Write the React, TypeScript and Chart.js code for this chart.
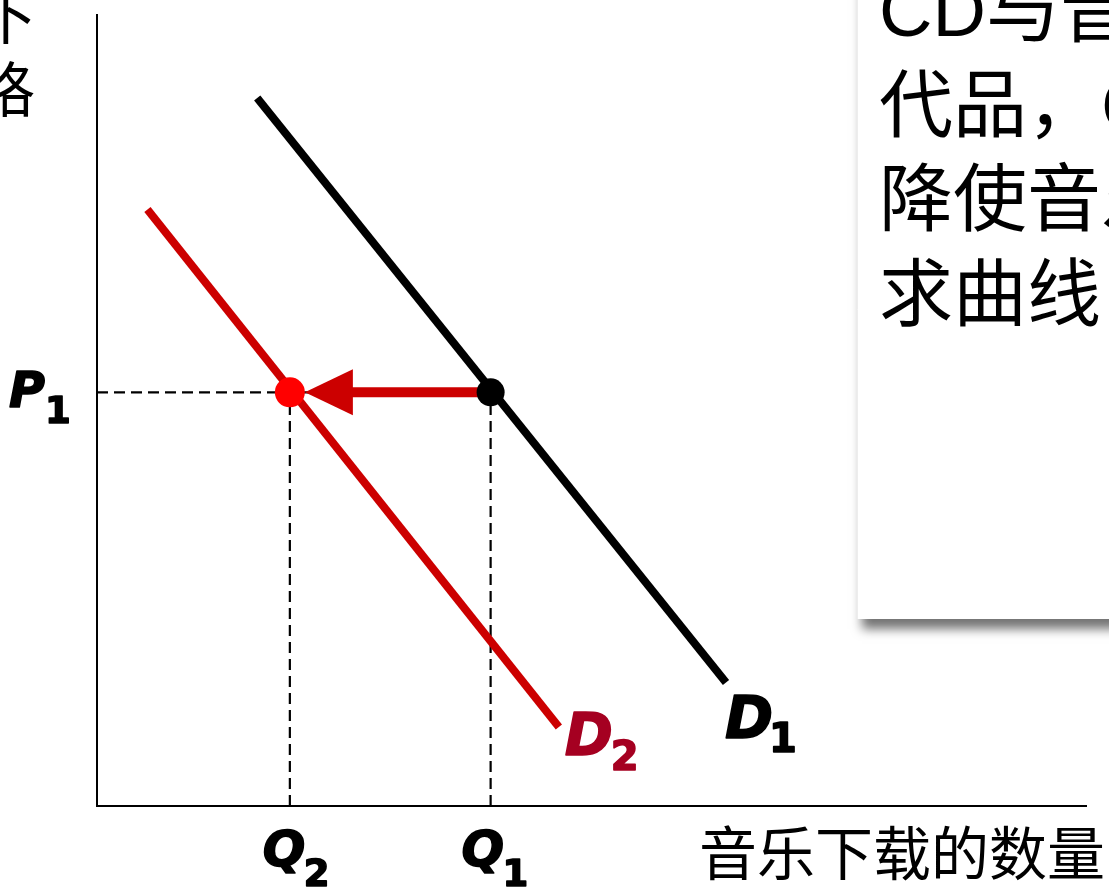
import React, { useEffect, useRef } from "react";
import { Chart, registerables } from "chart.js";

Chart.register(...registerables);

// ---- data (quantity axis 0..100, price axis 0..100) ----
const qRange = [0, 100];
const pRange = [0, 100];
const demandD1 = [
  { x: 16.2, y: 89.5 },
  { x: 63.6, y: 15.6 },
];
const demandD2 = [
  { x: 5.1, y: 75.4 },
  { x: 46.7, y: 10.0 },
];
const priceP1 = 52.3;
const quantityQ1 = 39.8;
const quantityQ2 = 19.5;
const labelD1 = ["D", "1"];
const labelD2 = ["D", "2"];
const labelP1 = ["P", "1"];
const labelQ1 = ["Q", "1"];
const labelQ2 = ["Q", "2"];
const xTitle = "音乐下载的数量";
const yTitleLines = ["音乐下", "载的价格"];
const noteLines = ["CD与音乐下载是替", "代品，CD价格下", "降使音乐下载的需", "求曲线"];

const LATIN_BI = "'DejaVu Sans', 'Liberation Sans', sans-serif";
const CJK = "'Noto Sans CJK SC', sans-serif";

function drawLabel(
  ctx: CanvasRenderingContext2D,
  parts: string[],
  x: number,
  y: number,
  mainSize: number,
  subSize: number,
  subDx: number,
  subDy: number,
  color: string
) {
  ctx.fillStyle = color;
  ctx.strokeStyle = color;
  ctx.lineJoin = "round";
  ctx.lineWidth = 1.6;
  ctx.textAlign = "left";
  ctx.textBaseline = "alphabetic";
  ctx.font = `italic bold ${mainSize}px ${LATIN_BI}`;
  ctx.fillText(parts[0], x, y);
  ctx.strokeText(parts[0], x, y);
  ctx.font = `bold ${subSize}px ${LATIN_BI}`;
  ctx.fillText(parts[1], x + subDx, y + subDy);
  ctx.strokeText(parts[1], x + subDx, y + subDy);
}

const overlayPlugin = {
  id: "overlay",
  afterDatasetsDraw(chart: any) {
    const ctx: CanvasRenderingContext2D = chart.ctx;
    const xs = chart.scales.x;
    const ys = chart.scales.y;
    const py = ys.getPixelForValue(priceP1);
    const tip = xs.getPixelForValue(quantityQ2) + 15;
    ctx.save();
    ctx.fillStyle = "#CC0000";
    ctx.beginPath();
    ctx.moveTo(tip, py);
    ctx.lineTo(tip + 48, py - 23);
    ctx.lineTo(tip + 48, py + 23);
    ctx.closePath();
    ctx.fill();
    ctx.restore();
  },
  afterDraw(chart: any) {
    const ctx: CanvasRenderingContext2D = chart.ctx;
    const xs = chart.scales.x;
    const ys = chart.scales.y;
    const ca = chart.chartArea;
    ctx.save();

    // note text box with shadow
    ctx.save();
    ctx.shadowColor = "rgba(0,0,0,0.55)";
    ctx.shadowBlur = 10;
    ctx.shadowOffsetX = 5;
    ctx.shadowOffsetY = 10;
    ctx.fillStyle = "#ffffff";
    ctx.fillRect(857, -40, 400, 659);
    ctx.restore();
    ctx.strokeStyle = "#ededed";
    ctx.lineWidth = 1;
    ctx.beginPath();
    ctx.moveTo(857.5, 0);
    ctx.lineTo(857.5, 619);
    ctx.stroke();
    ctx.fillStyle = "#000";
    ctx.textAlign = "left";
    ctx.textBaseline = "alphabetic";
    ctx.font = `74px 'Liberation Sans', ${CJK}`;
    noteLines.forEach((t, i) => ctx.fillText(t, 879, 36 + i * 94.7));

    // y title (cut off at the left edge)
    ctx.font = `60px ${CJK}`;
    ctx.textAlign = "right";
    ctx.fillText(yTitleLines[0], 37, 39);
    ctx.fillText(yTitleLines[1], 35, 112);

    // x title
    ctx.textAlign = "left";
    ctx.font = `58px ${CJK}`;
    ctx.fillText(xTitle, 699, 875);

    const py = ys.getPixelForValue(priceP1);
    const qx1 = xs.getPixelForValue(quantityQ1);
    const qx2 = xs.getPixelForValue(quantityQ2);

    drawLabel(ctx, labelP1, ca.left - 88, py + 15, 49, 37, 36, 16, "#000");
    drawLabel(ctx, labelQ2, qx2 - 27, ca.bottom + 60, 50, 37, 41, 20, "#000");
    drawLabel(ctx, labelQ1, qx1 - 29, ca.bottom + 60, 50, 37, 41, 20, "#000");

    const e1x = xs.getPixelForValue(demandD1[1].x);
    const e1y = ys.getPixelForValue(demandD1[1].y);
    const e2x = xs.getPixelForValue(demandD2[1].x);
    const e2y = ys.getPixelForValue(demandD2[1].y);
    drawLabel(ctx, labelD1, e1x - 1, e1y + 55, 58, 40, 44, 14, "#000");
    drawLabel(ctx, labelD2, e2x + 6, e2y + 28, 58, 40, 46, 15, "#A50021");

    ctx.restore();
  },
};

export default function App() {
  const ref = useRef<HTMLCanvasElement | null>(null);

  useEffect(() => {
    const canvas = ref.current;
    if (!canvas) return;
    const dashed = (pts: { x: number; y: number }[]) => ({
      data: pts,
      showLine: true,
      borderColor: "#000",
      borderWidth: 2.2,
      borderDash: [11, 6],
      pointRadius: 0,
    });
    const chart = new Chart(canvas, {
      type: "scatter",
      data: {
        datasets: [
          {
            data: [{ x: quantityQ2, y: priceP1 }],
            pointRadius: 15,
            pointBackgroundColor: "#FF0000",
            pointBorderWidth: 0,
            showLine: false,
          },
          {
            data: [{ x: quantityQ1, y: priceP1 }],
            pointRadius: 14,
            pointBackgroundColor: "#000",
            pointBorderWidth: 0,
            showLine: false,
          },
          {
            data: [
              { x: quantityQ1, y: priceP1 },
              { x: quantityQ2 + 3, y: priceP1 },
            ],
            showLine: true,
            borderColor: "#CC0000",
            borderWidth: 10,
            pointRadius: 0,
          },
          {
            data: demandD2,
            showLine: true,
            borderColor: "#CC0000",
            borderWidth: 8,
            pointRadius: 0,
          },
          {
            data: demandD1,
            showLine: true,
            borderColor: "#000",
            borderWidth: 8,
            pointRadius: 0,
          },
          dashed([
            { x: 0, y: priceP1 },
            { x: quantityQ1, y: priceP1 },
          ]),
          dashed([
            { x: quantityQ1, y: 0 },
            { x: quantityQ1, y: priceP1 },
          ]),
          dashed([
            { x: quantityQ2, y: 0 },
            { x: quantityQ2, y: priceP1 },
          ]),
        ],
      },
      options: {
        responsive: false,
        animation: false,
        events: [],
        layout: { padding: { left: 97, top: 15, right: 23, bottom: 82 } },
        plugins: { legend: { display: false }, tooltip: { enabled: false } },
        scales: {
          x: {
            type: "linear",
            min: qRange[0],
            max: qRange[1],
            ticks: { display: false },
            grid: { display: false, drawTicks: false, tickLength: 0 },
            border: { display: true, color: "#000", width: 2 },
          },
          y: {
            type: "linear",
            min: pRange[0],
            max: pRange[1],
            ticks: { display: false },
            grid: { display: false, drawTicks: false, tickLength: 0 },
            border: { display: true, color: "#000", width: 2 },
          },
        },
      },
      plugins: [overlayPlugin],
    } as any);
    return () => chart.destroy();
  }, []);

  return (
    <div
      style={{
        position: "fixed",
        left: 0,
        top: 0,
        width: 1109,
        height: 888,
        overflow: "hidden",
        background: "#fff",
      }}
    >
      <canvas ref={ref} width={1109} height={888} style={{ display: "block", width: 1109, height: 888 }} />
    </div>
  );
}
